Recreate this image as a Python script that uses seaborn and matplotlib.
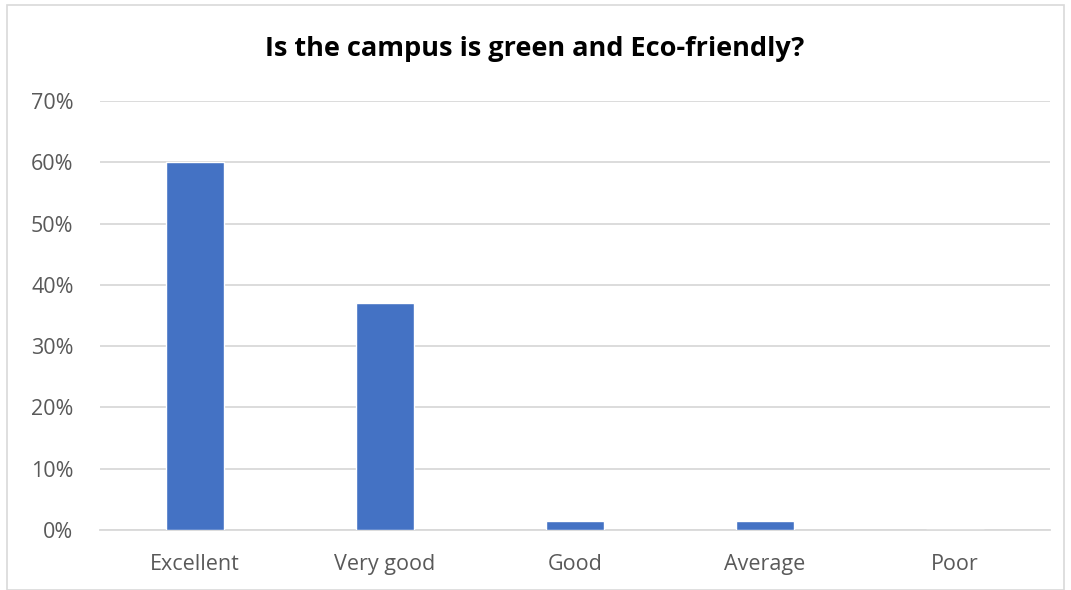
import matplotlib
matplotlib.use("Agg")
import matplotlib.pyplot as plt
import pandas as pd
import seaborn as sns
from matplotlib.patches import Rectangle
from matplotlib.ticker import PercentFormatter

categories = ["Excellent", "Very good", "Good", "Average", "Poor"]
shares = [0.60, 0.37, 0.014, 0.014, 0.0]
title = "Is the campus is green and Eco-friendly?"

df = pd.DataFrame({"rating": categories, "share": shares})

sns.set_theme(style="white")
plt.rcParams["font.family"] = ["Open Sans", "DejaVu Sans"]

fig = plt.figure(figsize=(10.71, 5.90), dpi=100)
ax = fig.add_axes([100 / 1071, 60 / 590, 950 / 1071, 429 / 590])

sns.barplot(data=df, x="rating", y="share", color="#4472c4", width=0.305,
            saturation=1, ax=ax, zorder=3)

ax.set_ylim(0, 0.70)
ax.set_yticks([i / 10 for i in range(8)])
ax.yaxis.set_major_formatter(PercentFormatter(1.0, decimals=0))
ax.grid(True, axis="y", color="#d9d9d9", linewidth=1.3, zorder=0)
ax.set_xlabel("")
ax.set_ylabel("")
for side in ["top", "right", "left"]:
    ax.spines[side].set_visible(False)
ax.spines["bottom"].set_color("#d9d9d9")
ax.spines["bottom"].set_linewidth(1.3)
ax.tick_params(axis="both", length=0, labelsize=15.5, labelcolor="#595959")
ax.tick_params(axis="y", pad=19)
ax.tick_params(axis="x", pad=17)

fig.text(535 / 1071, 1 - 49 / 590, title, ha="center", va="center",
         fontsize=19.5, fontweight="bold", color="#000000")

# chart area border
fig.patches.append(Rectangle((7 / 1071, 0), 1057 / 1071, 585 / 590,
                             transform=fig.transFigure, fill=False,
                             edgecolor="#d9d9d9", linewidth=1.2))

fig.savefig("out.png", dpi=100)
